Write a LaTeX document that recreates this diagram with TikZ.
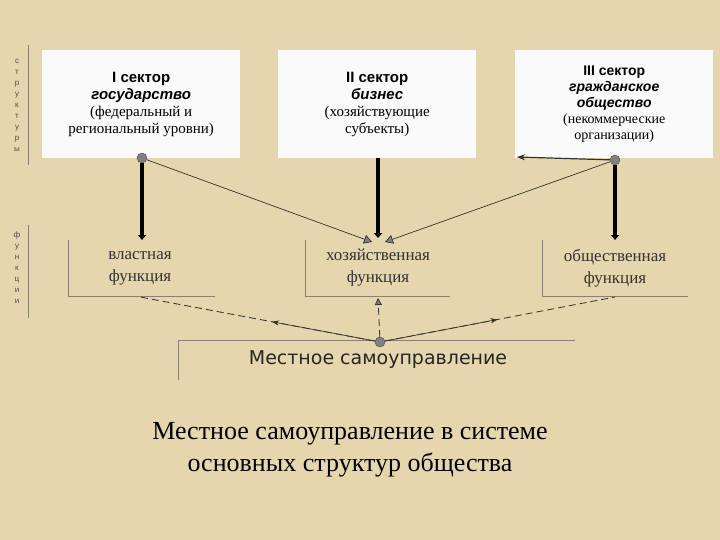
\documentclass[tikz,border=0pt]{standalone}
\usepackage{fontspec}
\setmainfont{Liberation Serif}
\newfontfamily\hs{Liberation Sans}
\newfontfamily\ds{DejaVu Sans}
\usetikzlibrary{arrows.meta,calc}
\definecolor{bg}{HTML}{E6D6AE}
\definecolor{ln}{HTML}{8A8070}
\begin{document}
\begin{tikzpicture}[x=1pt,y=-1pt,
  sector/.style={fill=white!96!gray,draw=none,minimum width=198pt,minimum height=108pt,anchor=north west,align=center,font=\fontsize{15}{17}\selectfont,inner sep=0pt},
  fun/.style={align=center,font=\fontsize{17}{22}\selectfont,text=black!80},
  dot/.style={circle,fill=gray,draw=black!70,inner sep=0pt,minimum size=10pt},
  thick/.style={line width=4.5pt,-{Triangle[length=5pt,width=8pt]}},
  thin/.style={black!80,line width=0.7pt},
  dsh/.style={black!80,line width=0.8pt,dash pattern=on 7pt off 4pt},
  side/.style={font=\hs\fontsize{8}{11}\selectfont,align=center,text=black!70}]
\fill[bg] (0,0) rectangle (720,540);
\useasboundingbox (0,0) rectangle (720,540);
\node[sector] (s1) at (42,50) {{\hs\bfseries I сектор}\\{\hs\bfseries\itshape государство}\\(федеральный и\\региональный уровни)};
\node[sector] (s2) at (278,50) {{\hs\bfseries II сектор}\\{\hs\bfseries\itshape бизнес}\\(хозяйствующие\\субъекты)};
\node[sector,font=\fontsize{14}{16}\selectfont] (s3) at (515,50) {{\hs\bfseries III сектор}\\{\hs\bfseries\itshape гражданское}\\{\hs\bfseries\itshape общество}\\(некоммерческие\\организации)};
\draw[ln] (28,45) -- (28,165) (28,225) -- (28,318);
\node[side] (l1) at (17,105) {с\\т\\р\\у\\к\\т\\у\\р\\ы};
\node[side] (l2) at (17,268) {ф\\у\\н\\к\\ц\\и\\и};
\draw[ln] (68,240) -- (68,296) -- (215,296);
\draw[ln] (305,240) -- (305,296) -- (450,296);
\draw[ln] (542,240) -- (542,296) -- (688,296);
\draw[ln] (178,380) -- (178,340) -- (575,340);
\node[fun] (f1) at (140,268) {властная\\функция};
\node[fun] (f2) at (378,268) {хозяйственная\\функция};
\node[fun] (f3) at (615,268) {общественная\\функция};
\node[font=\ds\fontsize{19}{22}\selectfont,text=black!85] (m) at (378,360) {Местное самоуправление};
\node[dot] (d1) at (142,158) {};
\node[dot] (d3) at (615,160) {};
\node[dot] (d0) at (380,342) {};
\coordinate (t1) at (142,240);
\coordinate (t2) at (378,238);
\coordinate (t3) at (615,240);
\coordinate (b2) at (378,158);
\draw[thick] (d1) -- (t1);
\draw[thick] (b2) -- (t2);
\draw[thick] (d3) -- (t3);
\draw[thin,-{Triangle[length=8pt,width=9pt,fill=gray]}] (d1) -- (372,242);
\draw[thin,-{Triangle[length=8pt,width=9pt,fill=gray]}] (d3) -- (385,242);
\coordinate (a3) at (517,157);
\draw[thin,line width=1.2pt,-{Stealth[length=8pt]}] (d3) -- (a3);
\coordinate (e1) at (140,297);
\coordinate (e3) at (615,297);
\coordinate (e2) at (378,298);
\draw[dsh,-{Triangle[length=7pt,width=7pt,fill=gray]}] (d0) -- (e2);
\draw[dsh] (d0) -- (e1);
\draw[thin,-{Stealth[length=7pt]}] (d0) -- ($(d0)!0.45!(e1)$);
\draw[dsh] (d0) -- (e3);
\draw[thin,-{Stealth[length=7pt]}] (d0) -- ($(d0)!0.5!(e3)$);
\node[font=\fontsize{26}{32}\selectfont,align=center] (title) at (350,450) {Местное самоуправление в системе\\основных структур общества};
\end{tikzpicture}
\end{document}
